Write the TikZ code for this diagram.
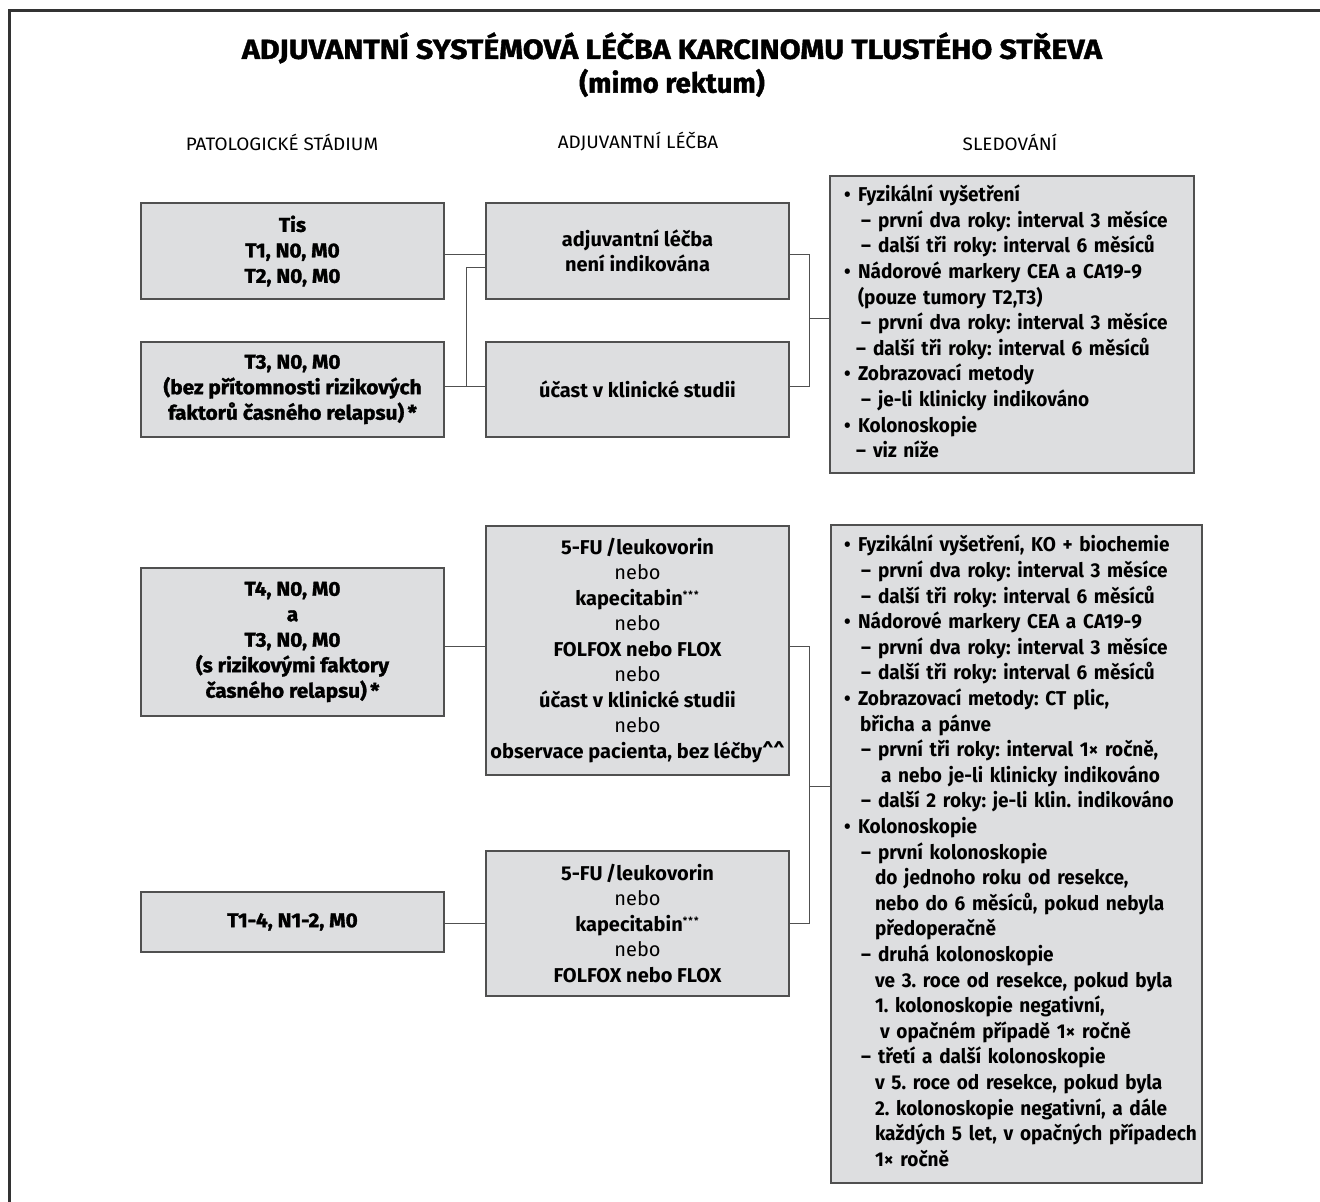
\documentclass[tikz,border=0pt]{standalone}
\usepackage{fontspec}
\setmainfont{Fira Sans}
\newfontfamily\titlefont{Fira Sans}[FakeStretch=1.1, FakeBold=1.5]
\newfontfamily\subtitlefont{Fira Sans}[FakeBold=1.5]
\newfontfamily\headfont{Fira Sans}[FakeStretch=1.05]
\newfontfamily\boxfont{Fira Sans}[FakeStretch=1.0]
\newfontfamily\listfont{Fira Sans}[FakeStretch=0.95]
\newfontfamily\heavyfont{Fira Sans}[FakeStretch=1.04, FakeBold=1.5]
\usepackage{tikz}
\usetikzlibrary{positioning, calc}
\definecolor{boxgray}{RGB}{221,222,224}
\definecolor{edgegray}{RGB}{80,80,80}
\newcommand{\itm}{\makebox[7pt][l]{•}}
\newcommand{\dashit}[1][8.5pt]{\hspace*{#1}\makebox[8.5pt][l]{–}}
\newcommand{\cont}[1][15.5pt]{\hspace*{#1}}
\newcommand{\stars}{\textsuperscript{\tiny*\kern0.6pt*\kern0.6pt*}}

\begin{document}
\frenchspacing
\begin{tikzpicture}
  [
    x=0.5pt, y=-0.5pt,
    Box/.style={rectangle, draw=edgegray, fill=boxgray, line width=0.6pt, inner sep=0pt, align=center},
    Stage/.style={Box, minimum width=151.5pt, font=\heavyfont\bfseries\fontsize{10}{12.75}\selectfont},
    Therapy/.style={Box, minimum width=151.5pt, font=\boxfont\bfseries\fontsize{10}{12.75}\selectfont},
    Follow/.style={Box, align=left, font=\listfont\bfseries\fontsize{10}{12.8}\selectfont},
    Head/.style={font=\headfont\fontsize{9}{11}\selectfont},
    Link/.style={draw=edgegray, line width=0.5pt}
  ]
  \useasboundingbox (0,0) rectangle (1320,1202);
  \draw[line width=1.5pt, black!80] (1320,11) -| (9,1202);
  % Nodes
  \node[font=\titlefont\bfseries\fontsize{13.8}{16}\selectfont] (title) at (672, 48)
    {ADJUVANTNÍ SYSTÉMOVÁ LÉČBA KARCINOMU TLUSTÉHO STŘEVA};
  \node[font=\subtitlefont\bfseries\fontsize{13.8}{16}\selectfont] (subtitle) at (672, 83) {(mimo rektum)};
  \node[Head] (hstage) at (282, 142) {PATOLOGICKÉ STÁDIUM};
  \node[Head] (htherapy) at (638, 142) {ADJUVANTNÍ LÉČBA};
  \node[Head] (hfollow) at (1010, 142) {SLEDOVÁNÍ};

  \node[Stage, minimum height=48pt] (A) at (292.5, 251) {Tis\\T1, N0, M0\\T2, N0, M0};
  \node[Stage, minimum height=47.5pt] (B) at (292.5, 389.5)
    {T3, N0, M0\\(bez přítomnosti rizikových\\faktorů časného relapsu)\,*};
  \node[Therapy, minimum height=48pt] (C) at (637.5, 251) {adjuvantní léčba\\není indikována};
  \node[Therapy, minimum height=47.5pt] (D) at (637.5, 389.5) {účast v klinické studii};
  \node[Follow, text width=168pt, minimum height=148.5pt, inner xsep=7pt] (E) at (1012, 324.5) {%
    \begin{tabular}{@{}l@{}}
    \itm Fyzikální vyšetření\\
    \dashit první dva roky: interval 3 měsíce\\
    \dashit další tři roky: interval 6 měsíců\\
    \itm Nádorové markery CEA a CA19-9\\
    \cont[7pt](pouze tumory T2,T3)\\
    \dashit první dva roky: interval 3 měsíce\\
    \dashit[6pt]další tři roky: interval 6 měsíců\\
    \itm Zobrazovací metody\\
    \dashit je-li klinicky indikováno\\
    \itm Kolonoskopie\\
    \dashit[6pt]viz níže
    \end{tabular}};

  \node[Stage, minimum height=74pt] (F) at (292.5, 642)
    {T4, N0, M0\\a\\T3, N0, M0\\(s rizikovými faktory\\časného relapsu)\,*};
  \node[Therapy, minimum height=124.5pt] (G) at (637.5, 650.5)
    {5-FU\,/leukovorin\\{\mdseries nebo}\\kapecitabin\stars\\{\mdseries nebo}\\FOLFOX nebo FLOX\\{\mdseries nebo}\\
     účast v klinické studii\\{\mdseries nebo}\\observace pacienta, bez léčby\textasciicircum\textasciicircum};
  \node[Stage, minimum height=30pt] (H) at (292.5, 922) {T1-4, N1-2, M0};
  \node[Therapy, minimum height=72.5pt] (I) at (637.5, 923.5)
    {5-FU\,/leukovorin\\{\mdseries nebo}\\kapecitabin\stars\\{\mdseries nebo}\\FOLFOX nebo FLOX};
  \node[Follow, text width=172.5pt, minimum height=329pt, inner xsep=6.5pt] (J) at (1016.5, 854) {%
    \begin{tabular}{@{}l@{}}
    \itm Fyzikální vyšetření, KO + biochemie\\
    \dashit první dva roky: interval 3 měsíce\\
    \dashit další tři roky: interval 6 měsíců\\
    \itm Nádorové markery CEA a CA19-9\\
    \dashit první dva roky: interval 3 měsíce\\
    \dashit další tři roky: interval 6 měsíců\\
    \itm Zobrazovací metody: CT plic,\\
    \cont[8pt]břicha a pánve\\
    \dashit první tři roky: interval 1× ročně,\\
    \cont[18.5pt]a nebo je-li klinicky indikováno\\
    \dashit další 2 roky: je-li klin. indikováno\\
    \itm Kolonoskopie\\
    \dashit první kolonoskopie\\
    \cont do jednoho roku od resekce,\\
    \cont nebo do 6 měsíců, pokud nebyla\\
    \cont předoperačně\\
    \dashit druhá kolonoskopie\\
    \cont ve 3. roce od resekce, pokud byla\\
    \cont 1. kolonoskopie negativní,\\
    \cont[18pt]v opačném případě 1× ročně\\
    \dashit třetí a další kolonoskopie\\
    \cont v 5. roce od resekce, pokud byla\\
    \cont 2. kolonoskopie negativní, a dále\\
    \cont každých 5 let, v opačných případech\\
    \cont 1× ročně
    \end{tabular}};

  \coordinate (jL) at (466, 387);
  \coordinate (jR) at (809, 319);
  \coordinate (jB) at (809, 786);
  % Lines
  \path[Link] ([yshift=-2pt]A.east) -- ([yshift=-2pt]A.east -| C.west);
  \path[Link] ([yshift=1.25pt]B.east) -- ([yshift=1.25pt]B.east -| D.west);
  \path[Link] ([yshift=-8.5pt]C.west) -| (jL);
  \path[Link] ([yshift=-2pt]C.east) -| (jR) |- ([yshift=1.25pt]D.east);
  \path[Link] (jR) -- (jR -| E.west);
  \path[Link] ([yshift=-2pt]F.east) -- ([yshift=-2pt]F.east -| G.west);
  \path[Link] ([yshift=-0.5pt]H.east) -- ([yshift=-0.5pt]H.east -| I.west);
  \path[Link] ([yshift=2.25pt]G.east) -| (jB) |- ([yshift=0.25pt]I.east);
  \path[Link] (jB) -- (jB -| J.west);
\end{tikzpicture}
\end{document}
